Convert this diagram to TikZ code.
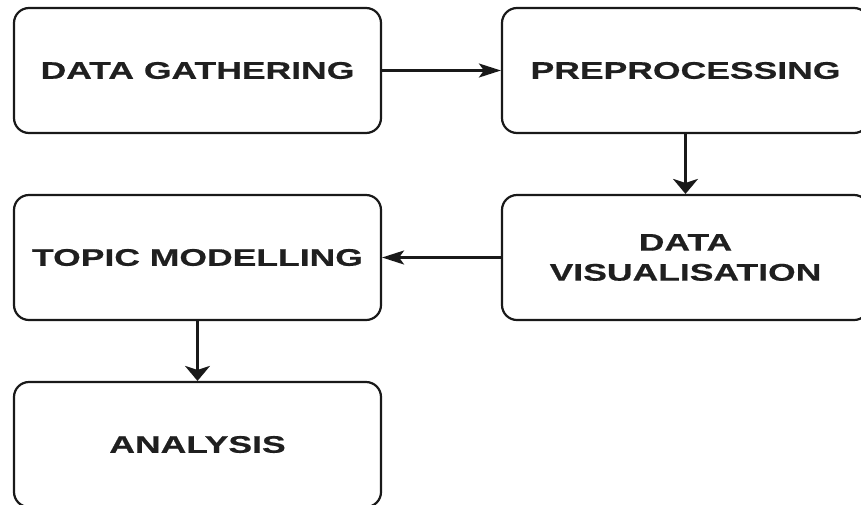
\documentclass[tikz,border=0pt]{standalone}
\usepackage{fontspec}
\usepackage{tikz}
\usetikzlibrary{positioning,arrows.meta,calc}
\newfontfamily\boxfont{Liberation Sans}[FakeStretch=1.48,FakeBold=0.6]

\tikzset{
  stepbox/.style={draw=black!90,line width=2.2pt,rounded corners=15pt,
    minimum width=367pt,minimum height=125pt,align=center,text=black!88,
    font=\boxfont\bfseries\fontsize{24}{30}\selectfont},
  harrow/.style={draw=black!90,line width=2.2pt,-{Stealth[length=22pt,width=14pt,inset=5pt]}},
  varrow/.style={draw=black!90,line width=2.2pt,-{Stealth[length=15pt,width=25pt,inset=4pt]}}
}

\begin{document}
\begin{tikzpicture}[x=1pt,y=-1pt]
  \useasboundingbox (0,0) rectangle (861,504);
  % boxes
  \node[stepbox] (gather)   at (197.5,70.5)  {DATA GATHERING};
  \node[stepbox] (prep)     at (685.5,70.5)  {PREPROCESSING};
  \node[stepbox] (visual)   at (685.5,257.5) {DATA\\VISUALISATION};
  \node[stepbox] (topic)    at (197.5,257.5) {TOPIC MODELLING};
  \node[stepbox] (analysis) at (197.5,444.5) {ANALYSIS};
  % arrows
  \foreach \a/\b/\s in {gather/prep/harrow,prep/visual/varrow,visual/topic/harrow,topic/analysis/varrow}
           {\draw[\s] (\a) -- (\b);}
\end{tikzpicture}
\end{document}
